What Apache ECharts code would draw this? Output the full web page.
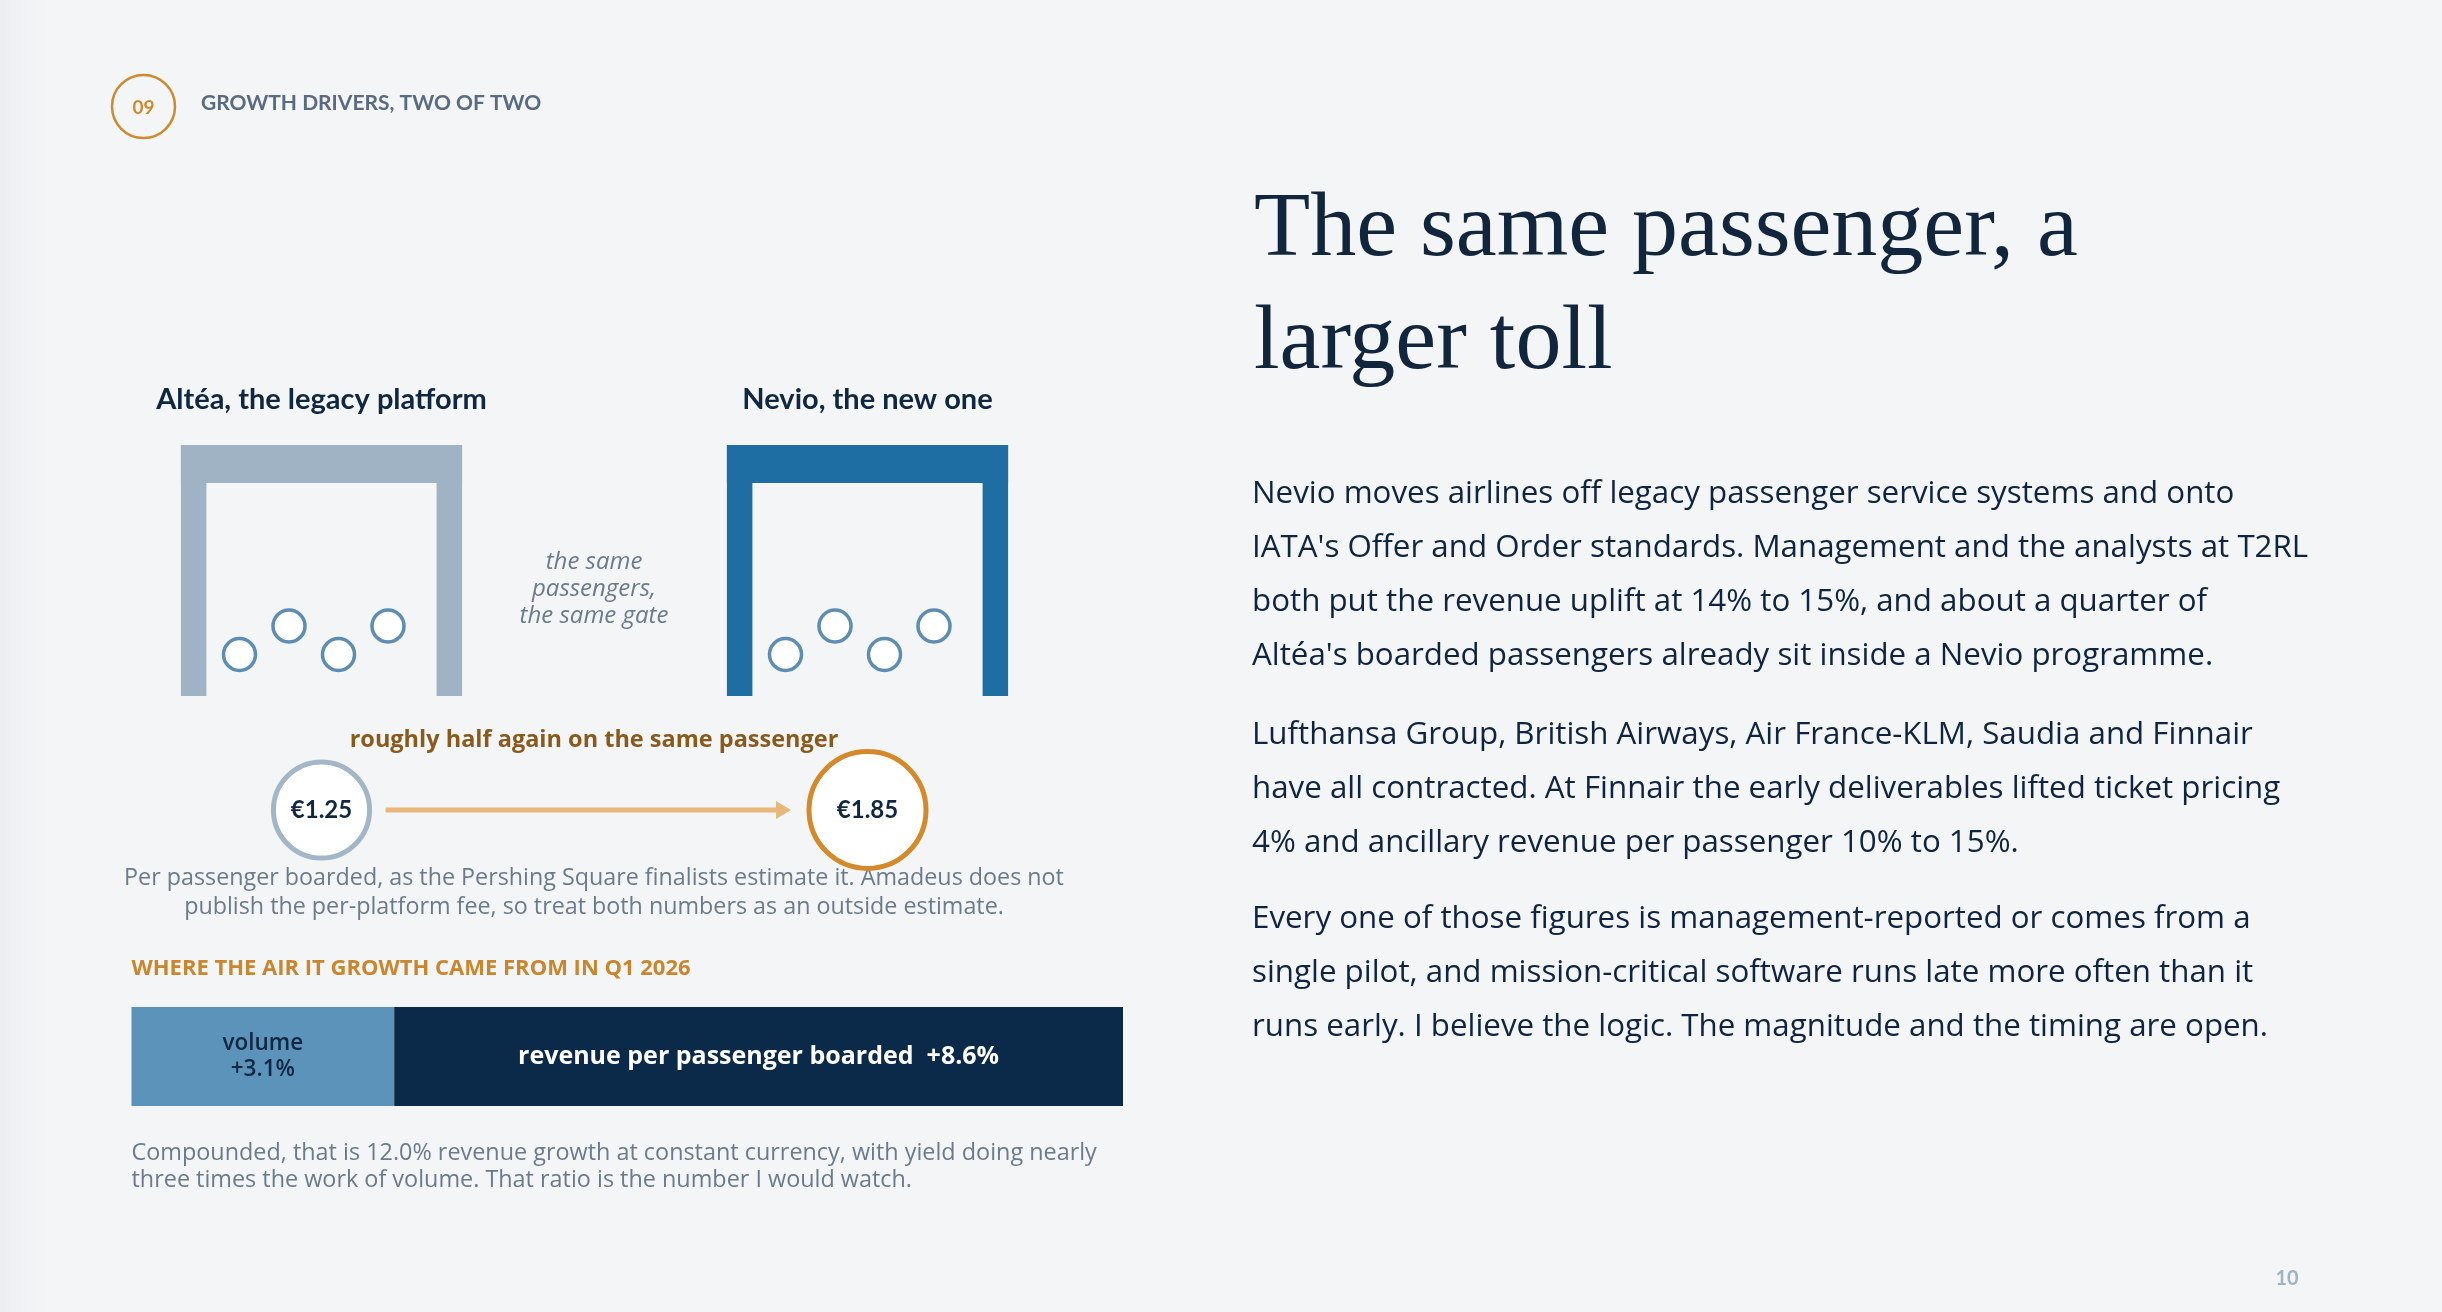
<!DOCTYPE html>
<html><head><meta charset="utf-8">
<script src="https://cdn.jsdelivr.net/npm/echarts@6/dist/echarts.min.js"></script>
<style>html,body{margin:0;padding:0;background:#f4f5f7}#c{width:2442px;height:1312px}</style>
</head><body><div id="c"></div>
<script>
// ---------- data ----------
const platforms = ['Altéa, the legacy platform', 'Nevio, the new one'];
const feePerPassenger = [1.25, 1.85];
const passengersPerGate = 4;
const growthParts = ['volume', 'revenue per passenger boarded'];
const growthValues = [3.1, 8.6];
const growthPeriod = ['Q1 2026'];

// ---------- styles ----------
const NAVY = '#0f2741', GRAY = '#6b7a8c', ORANGE = '#cf8a2e', BROWN = '#8a5a1c';
const gateColors = ['#9fb3c4', '#1f6ea3'];
const feeBorders = ['#a3b6c7', '#d4892a'];
const partColors = ['#5b93ba', '#0b2a4a'];
const F = 'Lato, "Noto Sans", sans-serif';
const OS = '"Open Sans", "Noto Sans", sans-serif';
const SERIF = '"Liberation Serif", serif';
const sizeOf = v => 86 * Math.sqrt(v);

function txt(x, y, text, o) {
  return { type: 'text', x, y, silent: true, style: Object.assign({
    text, fill: NAVY, fontFamily: OS, fontSize: 22,
    textAlign: 'left', align: 'left', textVerticalAlign: 'middle', verticalAlign: 'middle'
  }, o) };
}

const chart = echarts.init(document.getElementById('c'), null, { renderer: 'canvas' });
const total = growthValues.reduce((a, b) => a + b, 0);

const option = {
  backgroundColor: '#f4f5f7',
  animation: false,
  grid: [
    { left: 48.5, top: 445, width: 1092, height: 251 },
    { left: 48.5, top: 760, width: 1092, height: 100 },
    { left: 131.5, top: 1007, width: 991.5, height: 99 }
  ],
  xAxis: [
    { gridIndex: 0, type: 'category', data: platforms, position: 'top',
      axisLine: { show: false }, axisTick: { show: false }, splitLine: { show: false },
      axisLabel: { margin: 31, fontFamily: F, fontWeight: 'bold', fontSize: 29, color: NAVY } },
    { gridIndex: 1, type: 'category', data: platforms, show: false },
    { gridIndex: 2, type: 'value', min: 0, max: total, show: false }
  ],
  yAxis: [
    { gridIndex: 0, type: 'value', min: 0, max: 1, show: false },
    { gridIndex: 1, type: 'category', data: ['fee'], show: false },
    { gridIndex: 2, type: 'category', data: growthPeriod, show: false }
  ],
  series: [
    { // gates + passengers
      type: 'custom', xAxisIndex: 0, yAxisIndex: 0, silent: true,
      data: platforms.map((p, i) => [i]),
      renderItem: (params, api) => {
        const i = api.value(0);
        const top = api.coord([i, 1]), bot = api.coord([i, 0]);
        const band = api.size([1, 0])[0];
        const w = band * 0.515, x0 = top[0] - w / 2, h = bot[1] - top[1];
        const col = gateColors[i], t = 25.5;
        const ch = [
          { type: 'rect', shape: { x: x0, y: top[1], width: t, height: h }, style: { fill: col } },
          { type: 'rect', shape: { x: x0 + w - t, y: top[1], width: t, height: h }, style: { fill: col } },
          { type: 'rect', shape: { x: x0, y: top[1], width: w, height: 38 }, style: { fill: col } }
        ];
        for (let k = 0; k < passengersPerGate; k++) {
          ch.push({ type: 'circle',
            shape: { cx: top[0] - 82 + k * 49.5, cy: bot[1] - (k % 2 ? 70 : 41.5), r: 16 },
            style: { fill: '#ffffff', stroke: '#5d8db3', lineWidth: 3.5 } });
        }
        return { type: 'group', children: ch };
      }
    },
    { // arrow between fee circles
      type: 'custom', xAxisIndex: 1, yAxisIndex: 1, silent: true,
      data: [[0, 0]],
      renderItem: (params, api) => {
        const a = api.coord([0, 0]), b = api.coord([1, 0]);
        const x1 = a[0] + sizeOf(feePerPassenger[0]) / 2 + 16;
        const x2 = b[0] - sizeOf(feePerPassenger[1]) / 2 - 18;
        const c = '#e8b77a';
        return { type: 'group', children: [
          { type: 'line', shape: { x1: x1, y1: a[1], x2: x2 - 12, y2: a[1] }, style: { stroke: c, lineWidth: 5 } },
          { type: 'polygon', shape: { points: [[x2 - 15, a[1] - 9], [x2, a[1]], [x2 - 15, a[1] + 9]] }, style: { fill: c } }
        ] };
      }
    },
    { // fee circles
      type: 'scatter', xAxisIndex: 1, yAxisIndex: 1, silent: true, z: 5,
      data: feePerPassenger.map((v, i) => ({ value: [i, 0, v],
        itemStyle: { color: '#ffffff', borderColor: feeBorders[i], borderWidth: 5, opacity: 1 } })),
      symbol: 'circle',
      symbolSize: val => sizeOf(val[2]),
      label: { show: true, position: 'inside', fontFamily: F, fontWeight: 'bold', fontSize: 24, color: NAVY,
        formatter: p => '€' + p.value[2].toFixed(2) }
    },
    ...growthParts.map((name, i) => ({
      type: 'bar', name, xAxisIndex: 2, yAxisIndex: 2, stack: 'growth', silent: true,
      barWidth: '100%',
      data: [growthValues[i]],
      itemStyle: { color: partColors[i] },
      label: i === 0 ? {
        show: true, position: 'inside', fontFamily: OS, fontSize: 22.5, fontWeight: 600, color: NAVY, lineHeight: 26,
        formatter: p => name + '\n+' + p.value.toFixed(1) + '%'
      } : {
        show: true, position: 'inside', fontFamily: OS, fontSize: 25, fontWeight: 'bold', color: '#ffffff',
        formatter: p => name + '  +' + p.value.toFixed(1) + '%'
      }
    }))
  ],
  graphic: [
    { type: 'rect', silent: true, shape: { x: 0, y: 0, width: 46, height: 1312 },
      style: { fill: new echarts.graphic.LinearGradient(0, 0, 1, 0, [{ offset: 0, color: '#eceef1' }, { offset: 1, color: '#f4f5f7' }]) } },
    { type: 'circle', silent: true, shape: { cx: 143.5, cy: 106.5, r: 31.5 }, style: { fill: 'none', stroke: ORANGE, lineWidth: 2.5 } },
    txt(143.5, 108, '09', { fontFamily: F, fill: ORANGE, fontWeight: 'bold', fontSize: 19, textAlign: 'center', align: 'center' }),
    txt(201, 103, 'GROWTH DRIVERS, TWO OF TWO', { fontFamily: F, fill: '#5a6a80', fontWeight: 'bold', fontSize: 21 }),
    txt(594, 589, 'the same\npassengers,\nthe same gate', { fill: GRAY, fontStyle: 'italic', fontSize: 24, lineHeight: 27, textAlign: 'center', align: 'center' }),
    txt(594, 740, 'roughly half again on the same passenger', { fill: BROWN, fontWeight: 'bold', fontSize: 23.5, textAlign: 'center', align: 'center' }),
    txt(594, 892.5, 'Per passenger boarded, as the Pershing Square finalists estimate it. Amadeus does not\npublish the per-platform fee, so treat both numbers as an outside estimate.', { fill: GRAY, fontSize: 23.3, lineHeight: 29, textAlign: 'center', align: 'center' }),
    txt(131.5, 969, 'WHERE THE AIR IT GROWTH CAME FROM IN Q1 2026', { fill: '#c9862c', fontWeight: 'bold', fontSize: 22 }),
    txt(131.5, 1166.5, 'Compounded, that is 12.0% revenue growth at constant currency, with yield doing nearly\nthree times the work of volume. That ratio is the number I would watch.', { fill: GRAY, fontSize: 23.4, lineHeight: 27 }),
    txt(1254, 231, 'The same passenger, a', { fontFamily: SERIF, fontSize: 92, fill: '#11263d' }),
    txt(1254, 344, 'larger toll', { fontFamily: SERIF, fontSize: 92, fill: '#11263d' }),
    txt(1252, 467, "Nevio moves airlines off legacy passenger service systems and onto\nIATA's Offer and Order standards. Management and the analysts at T2RL\nboth put the revenue uplift at 14% to 15%, and about a quarter of\nAltéa's boarded passengers already sit inside a Nevio programme.", { fontSize: 31.3, lineHeight: 54, textVerticalAlign: 'top', verticalAlign: 'top', fill: '#0e2440' }),
    txt(1252, 708, 'Lufthansa Group, British Airways, Air France-KLM, Saudia and Finnair\nhave all contracted. At Finnair the early deliverables lifted ticket pricing\n4% and ancillary revenue per passenger 10% to 15%.', { fontSize: 31.3, lineHeight: 54, textVerticalAlign: 'top', verticalAlign: 'top', fill: '#0e2440' }),
    txt(1252, 892, 'Every one of those figures is management-reported or comes from a\nsingle pilot, and mission-critical software runs late more often than it\nruns early. I believe the logic. The magnitude and the timing are open.', { fontSize: 31.3, lineHeight: 54, textVerticalAlign: 'top', verticalAlign: 'top', fill: '#0e2440' }),
    txt(2287, 1279, '10', { fontFamily: F, fill: '#9fb3c6', fontWeight: 'bold', fontSize: 20, textAlign: 'center', align: 'center' })
  ]
};
chart.setOption(option);
</script></body></html>
